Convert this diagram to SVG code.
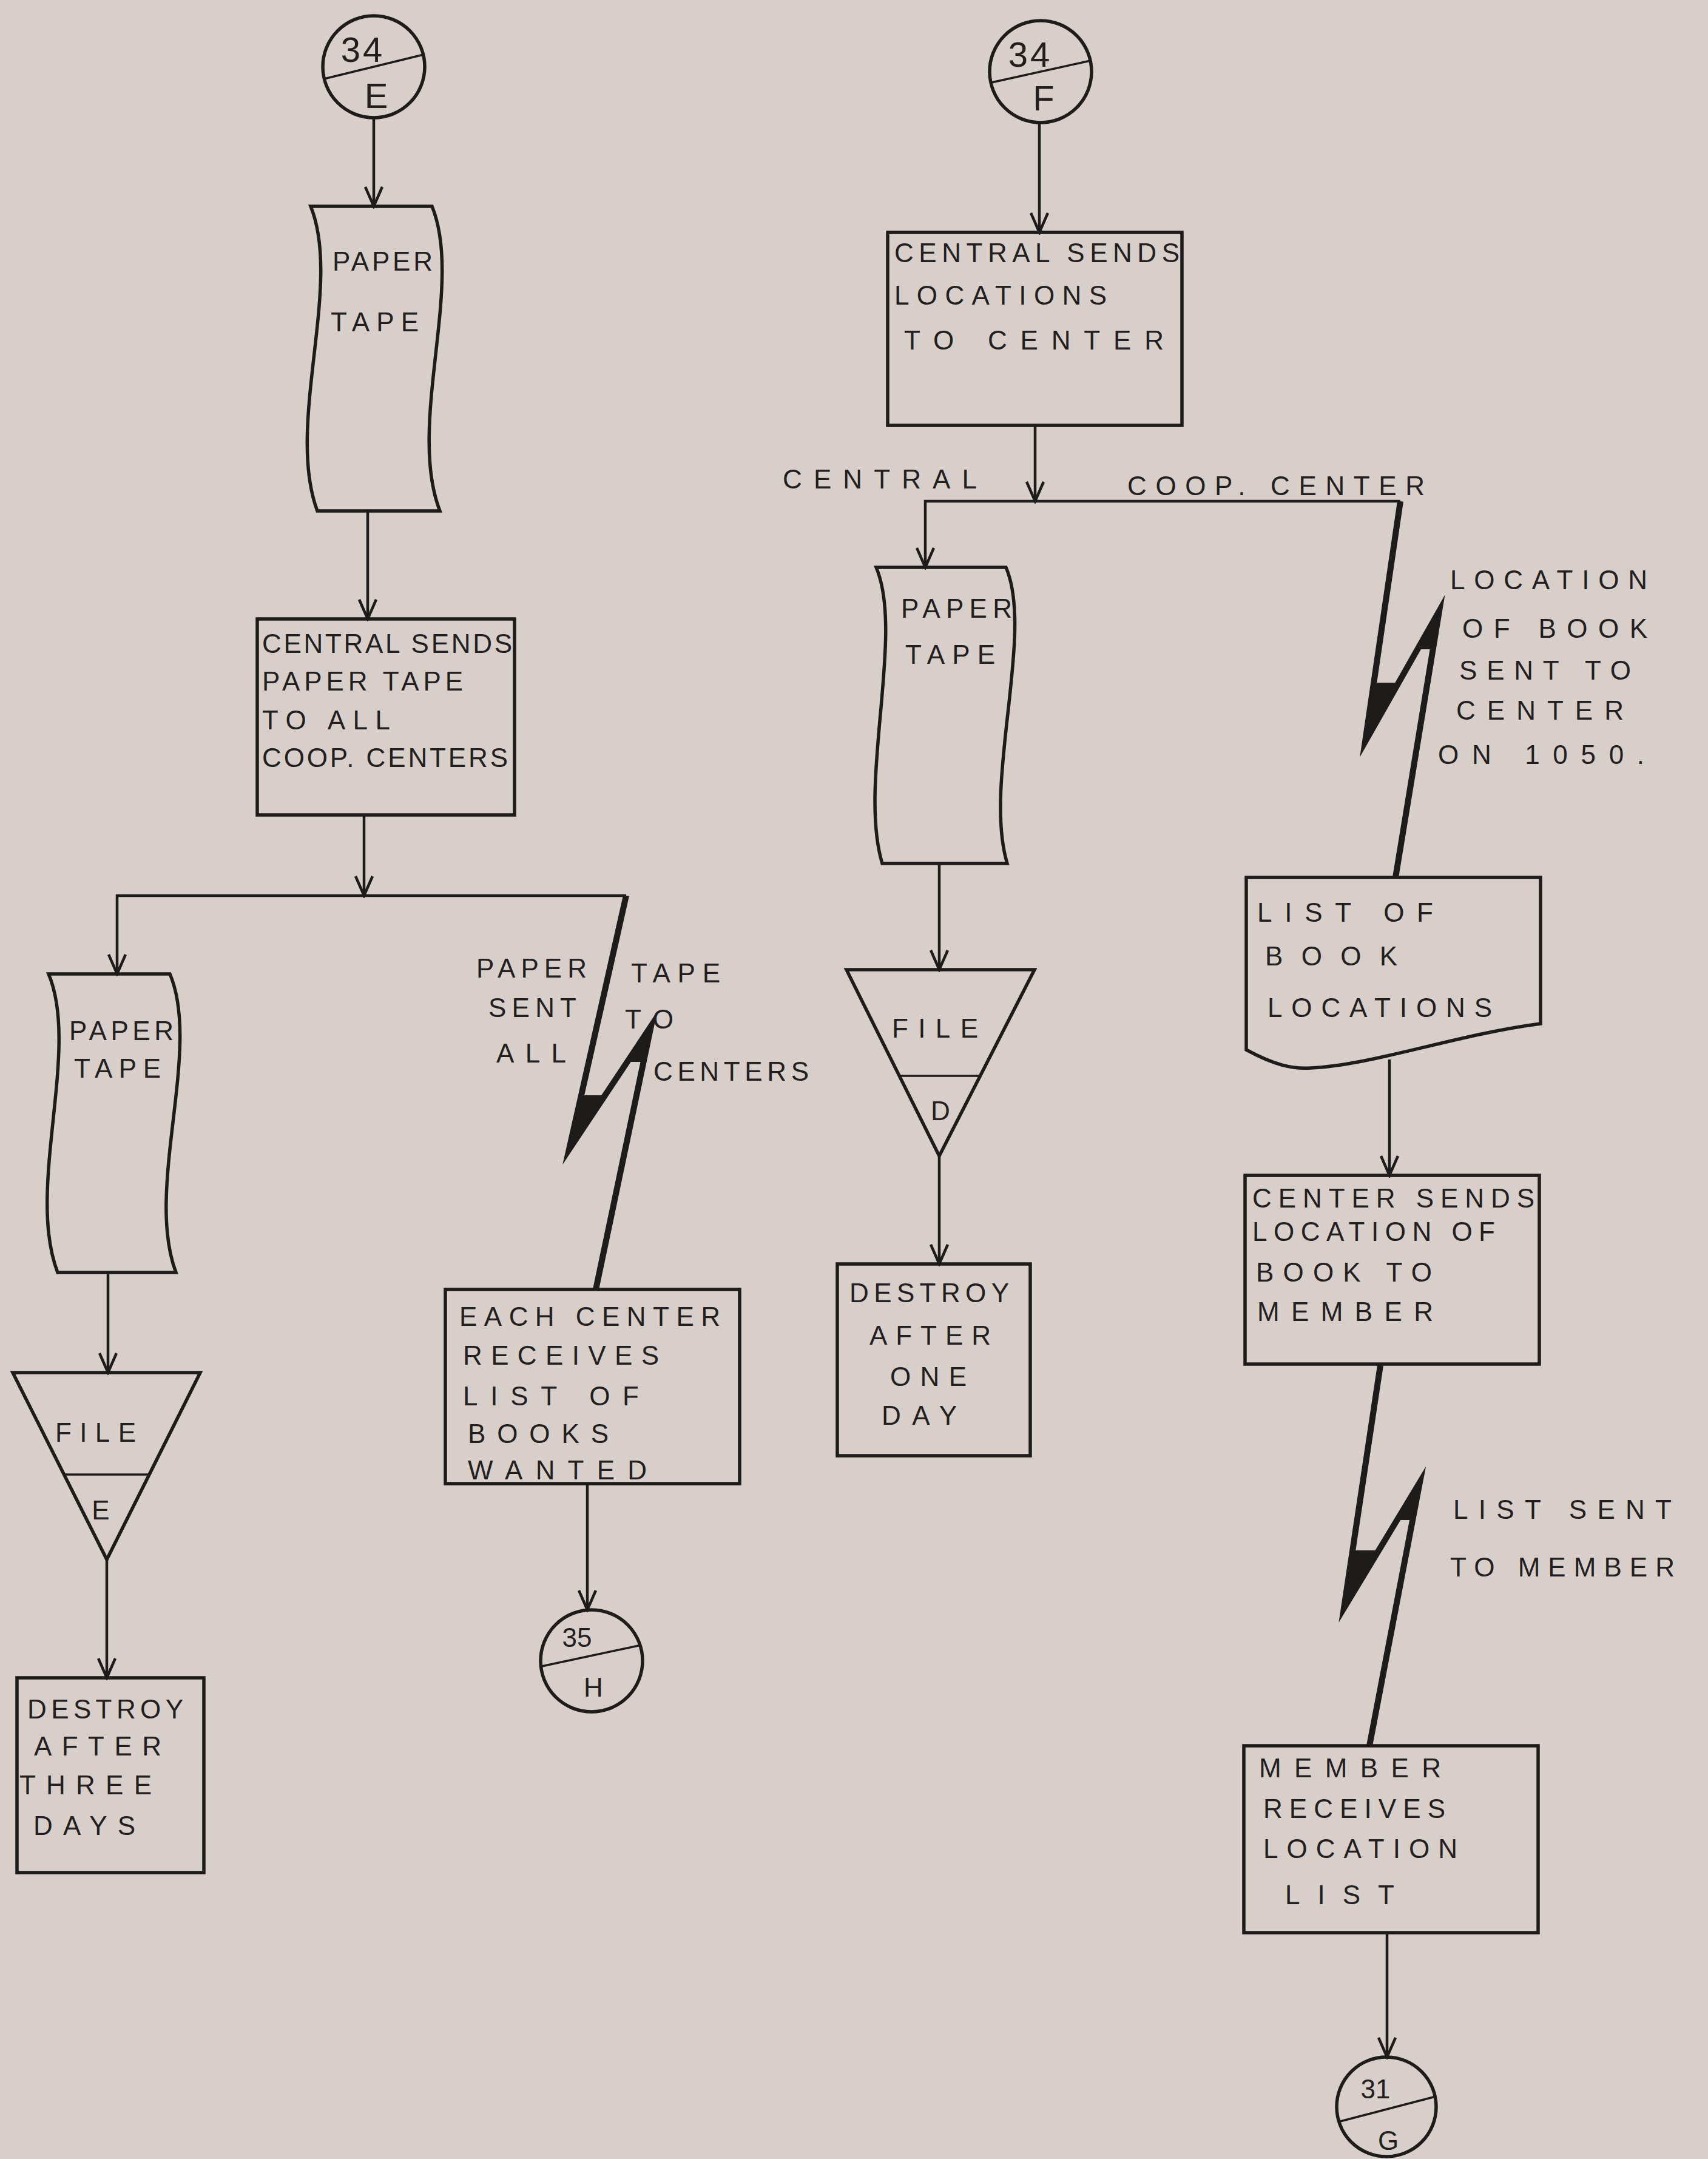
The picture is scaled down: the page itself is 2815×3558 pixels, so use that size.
<svg xmlns="http://www.w3.org/2000/svg" width="2815" height="3558" viewBox="0 0 2815 3558">
<defs>
<style>
.sh{fill:none;stroke:#1e1b1b;stroke-width:5.5;stroke-linejoin:miter}
.ln{fill:none;stroke:#1e1b1b;stroke-width:4.5}
.dv{fill:none;stroke:#1e1b1b;stroke-width:3.5}
.bolt{fill:none;stroke:#1e1b1b;stroke-width:10;stroke-linejoin:miter;stroke-miterlimit:8}
.wedge{fill:#1e1b1b;stroke:none}
text{font-family:"Liberation Sans","DejaVu Sans",sans-serif;font-size:44px;fill:#231f1f}
.c{text-anchor:middle}
.big{font-size:58px}
</style>
<marker id="arr" markerUnits="userSpaceOnUse" markerWidth="40" markerHeight="40" viewBox="-36 -20 40 40" refX="0" refY="0" orient="auto">
<path d="M-32,-14 L0,0 L-32,14" fill="none" stroke="#1e1b1b" stroke-width="4.5"/>
</marker>
</defs>
<rect x="0" y="0" width="2815" height="3558" fill="#d8cfca"/>

<g id="connectors">
<path class="ln" d="M616,194 L616,340" marker-end="url(#arr)"/>
<path class="ln" d="M606,842 L606,1020" marker-end="url(#arr)"/>
<path class="ln" d="M600,1343 L600,1476" marker-end="url(#arr)"/>
<path class="ln" d="M1032,1476 L193,1476 L193,1605" marker-end="url(#arr)"/>
<path class="ln" d="M178,2097 L178,2262" marker-end="url(#arr)"/>
<path class="ln" d="M176,2570 L176,2765" marker-end="url(#arr)"/>
<g id="bolt-left">
<polyline class="bolt" points="1032,1476 938,1894 1073,1691 982,2125"/>
<polygon class="wedge" points="958,1805 938,1894 997,1805"/>
<polygon class="wedge" points="1033,1750 1073,1691 1061,1750"/>
</g>
<path class="ln" d="M968,2445 L968,2653" marker-end="url(#arr)"/>
<path class="ln" d="M1713,202 L1713,383" marker-end="url(#arr)"/>
<path class="ln" d="M1706,701 L1706,826" marker-end="url(#arr)"/>
<path class="ln" d="M2308,826 L1525,826 L1525,935" marker-end="url(#arr)"/>
<path class="ln" d="M1548,1423 L1548,1598" marker-end="url(#arr)"/>
<path class="ln" d="M1548,1905 L1548,2083" marker-end="url(#arr)"/>
<g id="bolt-right-1">
<polyline class="bolt" points="2308,826 2250,1222 2372,1007 2300,1446"/>
<polygon class="wedge" points="2264,1125 2250,1222 2304,1125"/>
<polygon class="wedge" points="2336,1070 2372,1007 2362,1070"/>
</g>
<path class="ln" d="M2290,1746 L2290,1937" marker-end="url(#arr)"/>
<g id="bolt-right-2">
<polyline class="bolt" points="2275,2250 2215,2650 2340,2443 2257,2877"/>
<polygon class="wedge" points="2229,2555 2215,2650 2272,2555"/>
<polygon class="wedge" points="2303,2505 2340,2443 2330,2505"/>
</g>
<path class="ln" d="M2286,3185 L2286,3390" marker-end="url(#arr)"/>
</g>

<g id="label-paper-tape-sent">
<text x="785" y="1611" textLength="182">PAPER</text>
<text x="1040" y="1619" textLength="147">TAPE</text>
<text x="805" y="1676" textLength="145">SENT</text>
<text x="1030" y="1695" textLength="80">TO</text>
<text x="818" y="1751" textLength="115">ALL</text>
<text x="1077" y="1781" textLength="256">CENTERS</text>
</g>
<g id="label-central">
<text x="1290" y="805" textLength="320">CENTRAL</text>
</g>
<g id="label-coop-center">
<text x="1858" y="816" textLength="490">COOP. CENTER</text>
</g>
<g id="label-location-sent">
<text x="2390" y="971" textLength="325">LOCATION</text>
<text x="2410" y="1051" textLength="305">OF BOOK</text>
<text x="2405" y="1120" textLength="283">SENT TO</text>
<text x="2400" y="1186" textLength="276">CENTER</text>
<text x="2370" y="1259" textLength="340">ON 1050.</text>
</g>
<g id="label-list-sent">
<text x="2395" y="2503" textLength="360">LIST SENT</text>
<text x="2390" y="2598" textLength="370">TO MEMBER</text>
</g>

<g id="conn-34E">
<circle class="sh" cx="616" cy="110" r="84"/>
<path class="dv" d="M534,130 L698,90"/>
<text class="c big" x="598" y="102" letter-spacing="4">34</text>
<text class="c big" x="620" y="178">E</text>
</g>
<g id="tape-1">
<path class="sh" d="M512,340 L712,340 C765,470 670,700 725,842 L523,842 C470,700 565,470 512,340 Z"/>
<text x="548" y="446" textLength="165">PAPER</text>
<text x="545" y="546" textLength="145">TAPE</text>
</g>
<g id="proc-central-sends-tape">
<rect class="sh" x="424" y="1020" width="424" height="323"/>
<text x="432" y="1076" textLength="412">CENTRAL SENDS</text>
<text x="432" y="1138" textLength="331">PAPER TAPE</text>
<text x="432" y="1202" textLength="211">TO ALL</text>
<text x="432" y="1264" textLength="405">COOP. CENTERS</text>
</g>
<g id="tape-2">
<path class="sh" d="M80,1605 L280,1605 C333,1730 238,1960 290,2097 L95,2097 C42,1960 133,1730 80,1605 Z"/>
<text x="114" y="1714" textLength="172">PAPER</text>
<text x="122" y="1776" textLength="143">TAPE</text>
</g>
<g id="file-E">
<path class="sh" d="M21,2262 L330,2262 L176,2570 Z"/>
<path class="dv" d="M105,2430 L246,2430"/>
<text x="91" y="2376" textLength="133">FILE</text>
<text class="c" x="166" y="2504">E</text>
</g>
<g id="proc-destroy-three">
<rect class="sh" x="28" y="2765" width="308" height="321"/>
<text x="45" y="2832" textLength="257">DESTROY</text>
<text x="56" y="2893" textLength="210">AFTER</text>
<text x="32" y="2957" textLength="218">THREE</text>
<text x="55" y="3024" textLength="168">DAYS</text>
</g>
<g id="proc-each-center">
<rect class="sh" x="734" y="2125" width="485" height="320"/>
<text x="757" y="2185" textLength="430">EACH CENTER</text>
<text x="763" y="2249" textLength="323">RECEIVES</text>
<text x="763" y="2316" textLength="290">LIST OF</text>
<text x="771" y="2378" textLength="232">BOOKS</text>
<text x="771" y="2438" textLength="295">WANTED</text>
</g>
<g id="conn-35H">
<circle class="sh" cx="975" cy="2737" r="84"/>
<path class="dv" d="M893,2746 L1057,2711"/>
<text class="c" x="951" y="2714" font-size="46">35</text>
<text class="c" x="978" y="2796" font-size="50">H</text>
</g>

<g id="conn-34F">
<circle class="sh" cx="1715" cy="118" r="84"/>
<path class="dv" d="M1634,136 L1797,100"/>
<text class="c big" x="1698" y="110" letter-spacing="4">34</text>
<text class="c big" x="1720" y="182">F</text>
</g>
<g id="proc-central-sends-locations">
<rect class="sh" x="1463" y="383" width="485" height="318"/>
<text x="1474" y="432" textLength="470">CENTRAL SENDS</text>
<text x="1474" y="502" textLength="350">LOCATIONS</text>
<text x="1490" y="576" textLength="428">TO CENTER</text>
</g>
<g id="tape-3">
<path class="sh" d="M1444,935 L1658,935 C1705,1045 1620,1290 1660,1423 L1454,1423 C1414,1290 1491,1045 1444,935 Z"/>
<text x="1485" y="1018" textLength="183">PAPER</text>
<text x="1492" y="1094" textLength="148">TAPE</text>
</g>
<g id="file-D">
<path class="sh" d="M1395,1598 L1705,1598 L1548,1905 Z"/>
<path class="dv" d="M1482,1773 L1615,1773"/>
<text x="1470" y="1710" textLength="142">FILE</text>
<text class="c" x="1550" y="1846">D</text>
</g>
<g id="proc-destroy-one">
<rect class="sh" x="1380" y="2083" width="318" height="316"/>
<text x="1400" y="2146" textLength="263">DESTROY</text>
<text x="1433" y="2216" textLength="200">AFTER</text>
<text x="1467" y="2284" textLength="126">ONE</text>
<text x="1453" y="2348" textLength="124">DAY</text>
</g>
<g id="doc-list-locations">
<path class="sh" d="M2054,1446 L2539,1446 L2539,1687 C2400,1705 2260,1756 2160,1760 C2130,1762 2100,1755 2054,1730 Z"/>
<text x="2072" y="1519" textLength="290">LIST OF</text>
<text x="2085" y="1591" textLength="218">BOOK</text>
<text x="2089" y="1676" textLength="370">LOCATIONS</text>
</g>
<g id="proc-center-sends">
<rect class="sh" x="2052" y="1937" width="485" height="311"/>
<text x="2064" y="1990" textLength="465">CENTER SENDS</text>
<text x="2064" y="2045" textLength="400">LOCATION OF</text>
<text x="2070" y="2112" textLength="290">BOOK TO</text>
<text x="2072" y="2177" textLength="290">MEMBER</text>
</g>
<g id="proc-member-receives">
<rect class="sh" x="2050" y="2877" width="485" height="308"/>
<text x="2075" y="2929" textLength="300">MEMBER</text>
<text x="2082" y="2996" textLength="300">RECEIVES</text>
<text x="2082" y="3062" textLength="320">LOCATION</text>
<text x="2118" y="3138" textLength="180">LIST</text>
</g>
<g id="conn-31G">
<circle class="sh" cx="2285" cy="3472" r="82"/>
<path class="dv" d="M2205,3497 L2366,3455"/>
<text class="c" x="2267" y="3458" font-size="46">31</text>
<text class="c" x="2288" y="3543" font-size="50">G</text>
</g>
</svg>
